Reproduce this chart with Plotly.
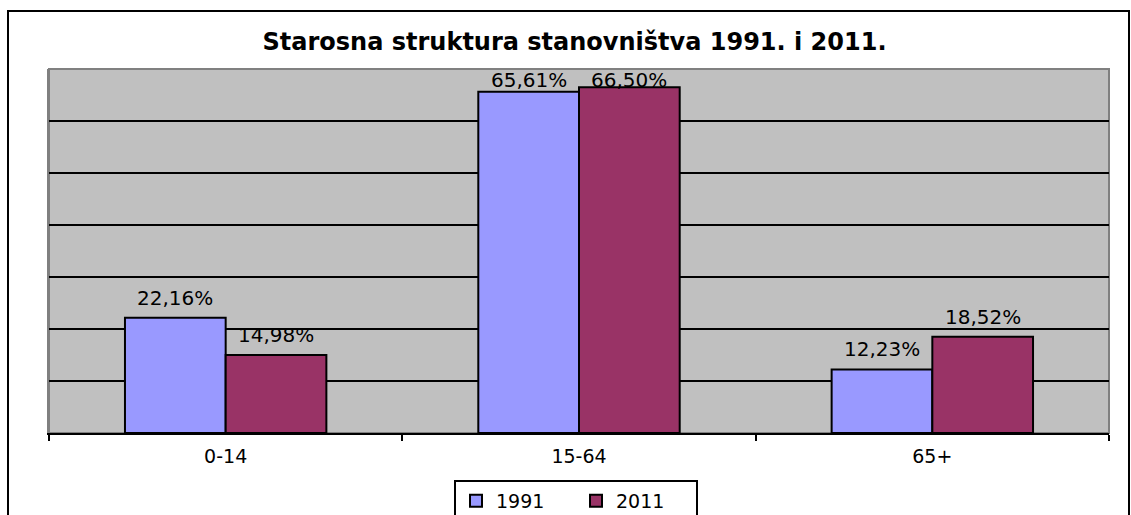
import plotly.graph_objects as go

categories = ["0-14", "15-64", "65+"]
series_names = ["1991", "2011"]
values_1991 = [22.16, 65.61, 12.23]
values_2011 = [14.98, 66.50, 18.52]
label_1991 = ["22,16%", "65,61%", "12,23%"]
label_2011 = ["14,98%", "66,50%", "18,52%"]

colors = ["#9999FF", "#993366"]
FONT = "DejaVu Sans"

L, R, T, B = 49, 22, 69, 82
W, H = 1131, 515
pw = W - L - R
ph = H - T - B
bargap = 0.43
YMAX = 70

fig = go.Figure()
for name, vals, col in zip(series_names, [values_1991, values_2011], colors):
    fig.add_trace(go.Bar(
        x=categories, y=vals, name=name,
        marker=dict(color=col, line=dict(color="black", width=2)),
    ))

# data labels
cat_w = pw / len(categories)
bar_w = cat_w * (1 - bargap) / 2
annotations = []
for k, (vals, labs) in enumerate([(values_1991, label_1991), (values_2011, label_2011)]):
    shift = (k - 0.5) * bar_w
    for c, v, t in zip(categories, vals, labs):
        annotations.append(dict(
            x=c, y=min(v, YMAX - 6), text=t, showarrow=False,
            xref="x", yref="y", xshift=shift, yshift=20, yanchor="middle",
            font=dict(family=FONT, size=20, color="black"),
        ))

shapes = [
    # plot area background with gray border
    dict(type="rect", xref="paper", yref="paper", x0=0, x1=1, y0=0, y1=1,
         fillcolor="#C0C0C0", line=dict(color="#808080", width=2), layer="below"),
    # outer frame
    dict(type="rect", xref="paper", yref="paper",
         x0=(8 - L) / pw, x1=(1129 - L) / pw,
         y0=(T + ph - 540) / ph, y1=(T + ph - 11) / ph,
         line=dict(color="black", width=2), fillcolor="rgba(0,0,0,0)", layer="above"),
]

fig.update_layout(
    width=W, height=H,
    margin=dict(l=L, r=R, t=T, b=B, autoexpand=False),
    paper_bgcolor="white", plot_bgcolor="#C0C0C0",
    barmode="group", bargap=bargap, bargroupgap=0,
    title=dict(text="<b>Starosna struktura stanovništva 1991. i 2011.</b>",
               x=0.508, xref="container", xanchor="center",
               y=1 - 42 / H, yref="container", yanchor="middle",
               font=dict(family=FONT, size=24, color="black")),
    font=dict(family=FONT, size=19, color="black"),
    showlegend=True,
    legend=dict(orientation="h", x=(576 - L) / pw, xanchor="center",
                y=(T + ph - 480) / ph, yanchor="top",
                bordercolor="black", borderwidth=2, bgcolor="white",
                font=dict(family=FONT, size=19, color="black"),
                entrywidth=75, traceorder="normal"),
    annotations=annotations,
    shapes=shapes,
)
fig.update_xaxes(
    type="category", showline=True, linecolor="black", linewidth=2,
    ticks="outside", tickson="boundaries", ticklen=6, tickwidth=2, tickcolor="black",
    showgrid=False, ticklabelstandoff=5,
    tickfont=dict(family=FONT, size=19, color="black"),
)
fig.update_yaxes(
    range=[0, YMAX], tickvals=[10, 20, 30, 40, 50, 60], showticklabels=False,
    showgrid=True, gridcolor="black", gridwidth=2, zeroline=False,
    showline=True, linecolor="#808080", linewidth=2, ticks="",
)

fig.write_html("out.html", config={"displayModeBar": False},
               post_script="document.body.style.margin='0';")
